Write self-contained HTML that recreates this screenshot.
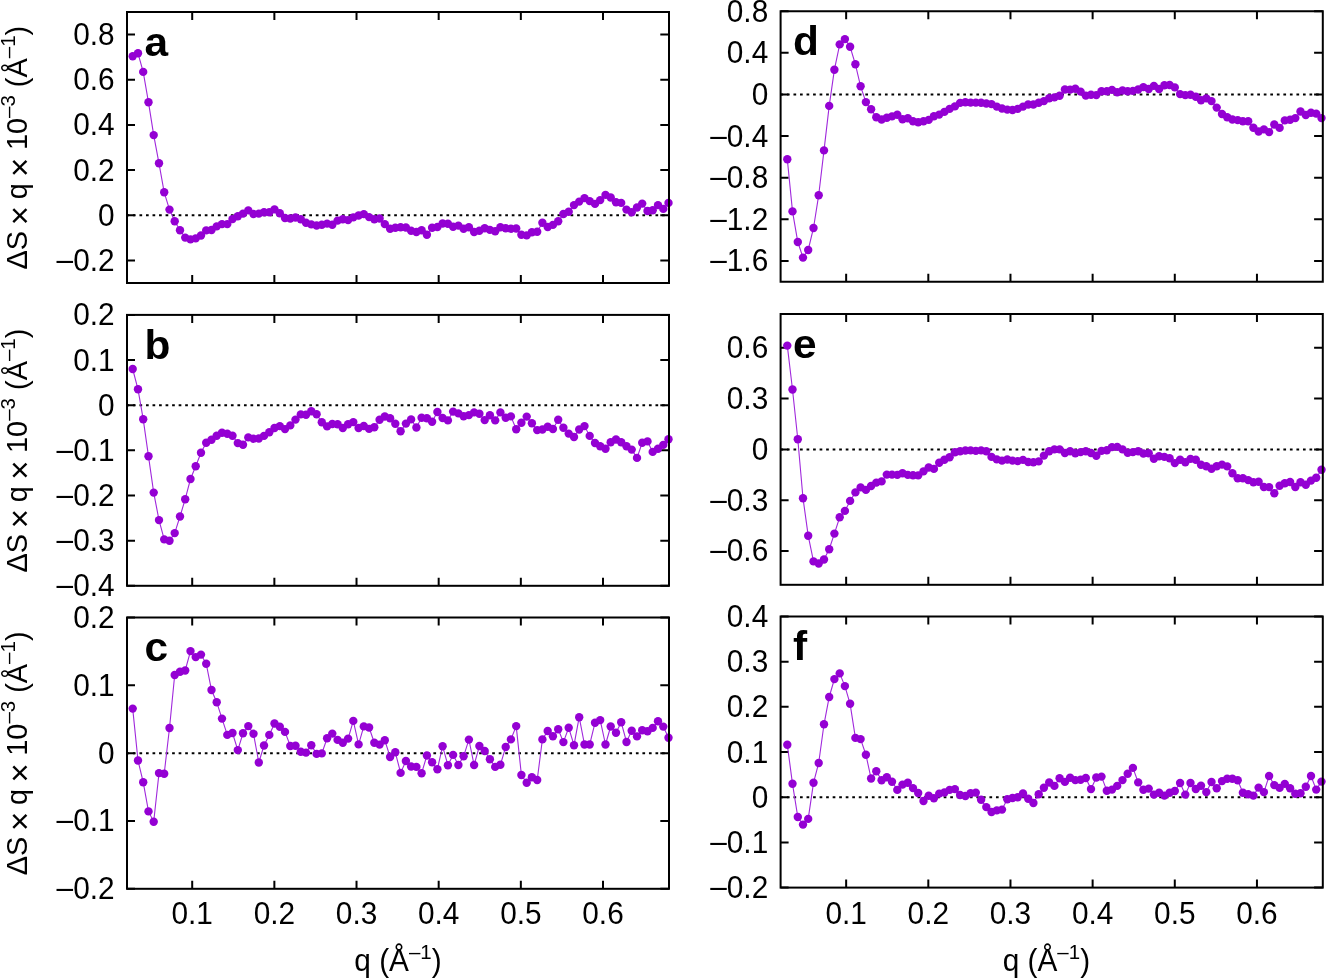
<!DOCTYPE html>
<html><head><meta charset="utf-8"><title>Figure</title>
<style>html,body{margin:0;padding:0;background:#fff;width:1326px;height:978px;overflow:hidden}
svg{display:block;font-family:'Liberation Sans', Arial, Helvetica, sans-serif;font-size:29.8px}</style></head>
<body>
<svg width="1326" height="978" viewBox="0 0 1326 978">
<rect width="1326" height="978" fill="#fff"/>
<g id="pa"><line x1="127.00" y1="215.25" x2="669.00" y2="215.25" stroke="#000" stroke-width="2" stroke-dasharray="2.7,3.832" stroke-dashoffset="0.61"/><path d="M127.00,260.42h8M669.00,260.42h-8.7" stroke="#000" stroke-width="2"/><text transform="translate(114.60,270.92) scale(1,1.06)" text-anchor="end"><tspan dy="-1">–</tspan><tspan dy="1">0.2</tspan></text><path d="M127.00,215.25h8M669.00,215.25h-8.7" stroke="#000" stroke-width="2"/><text transform="translate(114.60,225.75) scale(1,1.06)" text-anchor="end">0</text><path d="M127.00,170.08h8M669.00,170.08h-8.7" stroke="#000" stroke-width="2"/><text transform="translate(114.60,180.58) scale(1,1.06)" text-anchor="end">0.2</text><path d="M127.00,124.92h8M669.00,124.92h-8.7" stroke="#000" stroke-width="2"/><text transform="translate(114.60,135.42) scale(1,1.06)" text-anchor="end">0.4</text><path d="M127.00,79.75h8M669.00,79.75h-8.7" stroke="#000" stroke-width="2"/><text transform="translate(114.60,90.25) scale(1,1.06)" text-anchor="end">0.6</text><path d="M127.00,34.58h8M669.00,34.58h-8.7" stroke="#000" stroke-width="2"/><text transform="translate(114.60,45.08) scale(1,1.06)" text-anchor="end">0.8</text><path d="M192.20,283.00v-8M192.20,12.00v8" stroke="#000" stroke-width="2"/><path d="M274.36,283.00v-8M274.36,12.00v8" stroke="#000" stroke-width="2"/><path d="M356.52,283.00v-8M356.52,12.00v8" stroke="#000" stroke-width="2"/><path d="M438.68,283.00v-8M438.68,12.00v8" stroke="#000" stroke-width="2"/><path d="M520.84,283.00v-8M520.84,12.00v8" stroke="#000" stroke-width="2"/><path d="M603.00,283.00v-8M603.00,12.00v8" stroke="#000" stroke-width="2"/><path d="M132.7,56.3 L138.0,53.3 L143.2,71.9 L148.5,102.3 L153.7,135.1 L159.0,163.3 L164.2,192.3 L169.5,209.6 L174.7,221.2 L180.0,230.2 L185.2,237.6 L190.5,239.4 L195.7,238.4 L201.0,235.5 L206.2,230.4 L211.5,230.0 L216.7,226.4 L222.0,224.1 L227.3,224.1 L232.5,219.1 L237.8,216.2 L243.0,213.6 L248.3,210.4 L253.5,214.0 L258.8,213.6 L264.0,212.2 L269.3,212.2 L274.5,209.4 L279.8,213.2 L285.0,218.0 L290.3,218.5 L295.5,217.5 L300.8,219.3 L306.0,222.8 L311.3,224.4 L316.6,225.5 L321.8,224.7 L327.1,223.6 L332.3,224.7 L337.6,220.6 L342.8,219.3 L348.1,220.1 L353.3,217.4 L358.6,215.5 L363.8,214.1 L369.1,217.1 L374.3,219.3 L379.6,218.5 L384.8,224.1 L390.1,228.8 L395.3,227.7 L400.6,227.3 L405.9,227.5 L411.1,230.7 L416.4,232.0 L421.6,230.3 L426.9,234.7 L432.1,227.7 L437.4,227.0 L442.6,223.5 L447.9,223.8 L453.1,226.7 L458.4,225.6 L463.6,228.8 L468.9,227.3 L474.1,232.0 L479.4,230.7 L484.7,228.2 L489.9,229.9 L495.2,231.2 L500.4,227.2 L505.7,228.3 L510.9,228.8 L516.2,228.5 L521.4,234.7 L526.7,235.4 L531.9,232.3 L537.2,231.7 L542.4,222.8 L547.7,227.0 L552.9,224.9 L558.2,221.2 L563.4,214.0 L568.7,211.7 L574.0,205.1 L579.2,201.6 L584.5,198.1 L589.7,201.1 L595.0,203.9 L600.2,200.1 L605.5,194.9 L610.7,197.5 L616.0,202.2 L621.2,202.9 L626.5,209.6 L631.7,212.2 L637.0,207.5 L642.2,203.6 L647.5,211.0 L652.7,210.3 L658.0,205.1 L663.3,208.9 L668.5,202.9" fill="none" stroke="#a028dc" stroke-width="1.1"/><g fill="#9400d3"><circle cx="132.7" cy="56.3" r="4.2"/><circle cx="138.0" cy="53.3" r="4.2"/><circle cx="143.2" cy="71.9" r="4.2"/><circle cx="148.5" cy="102.3" r="4.2"/><circle cx="153.7" cy="135.1" r="4.2"/><circle cx="159.0" cy="163.3" r="4.2"/><circle cx="164.2" cy="192.3" r="4.2"/><circle cx="169.5" cy="209.6" r="4.2"/><circle cx="174.7" cy="221.2" r="4.2"/><circle cx="180.0" cy="230.2" r="4.2"/><circle cx="185.2" cy="237.6" r="4.2"/><circle cx="190.5" cy="239.4" r="4.2"/><circle cx="195.7" cy="238.4" r="4.2"/><circle cx="201.0" cy="235.5" r="4.2"/><circle cx="206.2" cy="230.4" r="4.2"/><circle cx="211.5" cy="230.0" r="4.2"/><circle cx="216.7" cy="226.4" r="4.2"/><circle cx="222.0" cy="224.1" r="4.2"/><circle cx="227.3" cy="224.1" r="4.2"/><circle cx="232.5" cy="219.1" r="4.2"/><circle cx="237.8" cy="216.2" r="4.2"/><circle cx="243.0" cy="213.6" r="4.2"/><circle cx="248.3" cy="210.4" r="4.2"/><circle cx="253.5" cy="214.0" r="4.2"/><circle cx="258.8" cy="213.6" r="4.2"/><circle cx="264.0" cy="212.2" r="4.2"/><circle cx="269.3" cy="212.2" r="4.2"/><circle cx="274.5" cy="209.4" r="4.2"/><circle cx="279.8" cy="213.2" r="4.2"/><circle cx="285.0" cy="218.0" r="4.2"/><circle cx="290.3" cy="218.5" r="4.2"/><circle cx="295.5" cy="217.5" r="4.2"/><circle cx="300.8" cy="219.3" r="4.2"/><circle cx="306.0" cy="222.8" r="4.2"/><circle cx="311.3" cy="224.4" r="4.2"/><circle cx="316.6" cy="225.5" r="4.2"/><circle cx="321.8" cy="224.7" r="4.2"/><circle cx="327.1" cy="223.6" r="4.2"/><circle cx="332.3" cy="224.7" r="4.2"/><circle cx="337.6" cy="220.6" r="4.2"/><circle cx="342.8" cy="219.3" r="4.2"/><circle cx="348.1" cy="220.1" r="4.2"/><circle cx="353.3" cy="217.4" r="4.2"/><circle cx="358.6" cy="215.5" r="4.2"/><circle cx="363.8" cy="214.1" r="4.2"/><circle cx="369.1" cy="217.1" r="4.2"/><circle cx="374.3" cy="219.3" r="4.2"/><circle cx="379.6" cy="218.5" r="4.2"/><circle cx="384.8" cy="224.1" r="4.2"/><circle cx="390.1" cy="228.8" r="4.2"/><circle cx="395.3" cy="227.7" r="4.2"/><circle cx="400.6" cy="227.3" r="4.2"/><circle cx="405.9" cy="227.5" r="4.2"/><circle cx="411.1" cy="230.7" r="4.2"/><circle cx="416.4" cy="232.0" r="4.2"/><circle cx="421.6" cy="230.3" r="4.2"/><circle cx="426.9" cy="234.7" r="4.2"/><circle cx="432.1" cy="227.7" r="4.2"/><circle cx="437.4" cy="227.0" r="4.2"/><circle cx="442.6" cy="223.5" r="4.2"/><circle cx="447.9" cy="223.8" r="4.2"/><circle cx="453.1" cy="226.7" r="4.2"/><circle cx="458.4" cy="225.6" r="4.2"/><circle cx="463.6" cy="228.8" r="4.2"/><circle cx="468.9" cy="227.3" r="4.2"/><circle cx="474.1" cy="232.0" r="4.2"/><circle cx="479.4" cy="230.7" r="4.2"/><circle cx="484.7" cy="228.2" r="4.2"/><circle cx="489.9" cy="229.9" r="4.2"/><circle cx="495.2" cy="231.2" r="4.2"/><circle cx="500.4" cy="227.2" r="4.2"/><circle cx="505.7" cy="228.3" r="4.2"/><circle cx="510.9" cy="228.8" r="4.2"/><circle cx="516.2" cy="228.5" r="4.2"/><circle cx="521.4" cy="234.7" r="4.2"/><circle cx="526.7" cy="235.4" r="4.2"/><circle cx="531.9" cy="232.3" r="4.2"/><circle cx="537.2" cy="231.7" r="4.2"/><circle cx="542.4" cy="222.8" r="4.2"/><circle cx="547.7" cy="227.0" r="4.2"/><circle cx="552.9" cy="224.9" r="4.2"/><circle cx="558.2" cy="221.2" r="4.2"/><circle cx="563.4" cy="214.0" r="4.2"/><circle cx="568.7" cy="211.7" r="4.2"/><circle cx="574.0" cy="205.1" r="4.2"/><circle cx="579.2" cy="201.6" r="4.2"/><circle cx="584.5" cy="198.1" r="4.2"/><circle cx="589.7" cy="201.1" r="4.2"/><circle cx="595.0" cy="203.9" r="4.2"/><circle cx="600.2" cy="200.1" r="4.2"/><circle cx="605.5" cy="194.9" r="4.2"/><circle cx="610.7" cy="197.5" r="4.2"/><circle cx="616.0" cy="202.2" r="4.2"/><circle cx="621.2" cy="202.9" r="4.2"/><circle cx="626.5" cy="209.6" r="4.2"/><circle cx="631.7" cy="212.2" r="4.2"/><circle cx="637.0" cy="207.5" r="4.2"/><circle cx="642.2" cy="203.6" r="4.2"/><circle cx="647.5" cy="211.0" r="4.2"/><circle cx="652.7" cy="210.3" r="4.2"/><circle cx="658.0" cy="205.1" r="4.2"/><circle cx="663.3" cy="208.9" r="4.2"/><circle cx="668.5" cy="202.9" r="4.2"/></g><rect x="127.00" y="12.00" width="542.00" height="271.00" fill="none" stroke="#000" stroke-width="2"/><text transform="translate(144.60,55.60) scale(1.035,1)" font-weight="bold" font-size="41">a</text><text transform="translate(27,147.70) rotate(-90)" text-anchor="middle" font-size="28.9">ΔS <tspan font-size="33" dy="3.9" dx="-2.3">×</tspan><tspan dy="-3.9" dx="-1.3"> q </tspan><tspan font-size="33" dy="3.9" dx="-1.7">×</tspan><tspan dy="-3.9" dx="-0.5"> 10</tspan><tspan dy="-12.3" font-size="20.5">–3</tspan><tspan dy="12.3"> (Å</tspan><tspan dy="-12.3" font-size="20.5">–1</tspan><tspan dy="12.3">)</tspan></text></g>
<g id="pb"><line x1="127.00" y1="405.20" x2="669.00" y2="405.20" stroke="#000" stroke-width="2" stroke-dasharray="2.7,3.832" stroke-dashoffset="0.61"/><path d="M127.00,585.80h8M669.00,585.80h-8.7" stroke="#000" stroke-width="2"/><text transform="translate(114.60,596.30) scale(1,1.06)" text-anchor="end"><tspan dy="-1">–</tspan><tspan dy="1">0.4</tspan></text><path d="M127.00,540.65h8M669.00,540.65h-8.7" stroke="#000" stroke-width="2"/><text transform="translate(114.60,551.15) scale(1,1.06)" text-anchor="end"><tspan dy="-1">–</tspan><tspan dy="1">0.3</tspan></text><path d="M127.00,495.50h8M669.00,495.50h-8.7" stroke="#000" stroke-width="2"/><text transform="translate(114.60,506.00) scale(1,1.06)" text-anchor="end"><tspan dy="-1">–</tspan><tspan dy="1">0.2</tspan></text><path d="M127.00,450.35h8M669.00,450.35h-8.7" stroke="#000" stroke-width="2"/><text transform="translate(114.60,460.85) scale(1,1.06)" text-anchor="end"><tspan dy="-1">–</tspan><tspan dy="1">0.1</tspan></text><path d="M127.00,405.20h8M669.00,405.20h-8.7" stroke="#000" stroke-width="2"/><text transform="translate(114.60,415.70) scale(1,1.06)" text-anchor="end">0</text><path d="M127.00,360.05h8M669.00,360.05h-8.7" stroke="#000" stroke-width="2"/><text transform="translate(114.60,370.55) scale(1,1.06)" text-anchor="end">0.1</text><path d="M127.00,314.90h8M669.00,314.90h-8.7" stroke="#000" stroke-width="2"/><text transform="translate(114.60,325.40) scale(1,1.06)" text-anchor="end">0.2</text><path d="M192.20,585.80v-8M192.20,314.90v8" stroke="#000" stroke-width="2"/><path d="M274.36,585.80v-8M274.36,314.90v8" stroke="#000" stroke-width="2"/><path d="M356.52,585.80v-8M356.52,314.90v8" stroke="#000" stroke-width="2"/><path d="M438.68,585.80v-8M438.68,314.90v8" stroke="#000" stroke-width="2"/><path d="M520.84,585.80v-8M520.84,314.90v8" stroke="#000" stroke-width="2"/><path d="M603.00,585.80v-8M603.00,314.90v8" stroke="#000" stroke-width="2"/><path d="M132.7,369.0 L138.0,389.3 L143.2,419.2 L148.5,456.3 L153.7,492.6 L159.0,520.1 L164.2,539.4 L169.5,540.8 L174.7,533.1 L180.0,516.5 L185.2,499.2 L190.5,479.0 L195.7,466.3 L201.0,452.7 L206.2,442.7 L211.5,439.7 L216.7,435.8 L222.0,432.8 L227.3,433.8 L232.5,435.8 L237.8,443.1 L243.0,444.7 L248.3,437.4 L253.5,438.7 L258.8,438.5 L264.0,435.9 L269.3,432.2 L274.5,428.0 L279.8,426.1 L285.0,429.1 L290.3,425.4 L295.5,419.6 L300.8,414.4 L306.0,414.8 L311.3,411.3 L316.6,414.3 L321.8,422.2 L327.1,426.4 L332.3,424.0 L337.6,424.3 L342.8,428.0 L348.1,424.3 L353.3,422.1 L358.6,428.0 L363.8,426.0 L369.1,428.9 L374.3,427.2 L379.6,419.8 L384.8,416.5 L390.1,418.3 L395.3,423.7 L400.6,431.2 L405.9,423.6 L411.1,419.4 L416.4,427.5 L421.6,417.7 L426.9,418.3 L432.1,421.7 L437.4,412.0 L442.6,418.0 L447.9,420.4 L453.1,411.6 L458.4,413.4 L463.6,416.2 L468.9,415.1 L474.1,412.4 L479.4,413.8 L484.7,420.1 L489.9,415.3 L495.2,420.4 L500.4,412.4 L505.7,417.7 L510.9,416.4 L516.2,429.3 L521.4,422.7 L526.7,416.6 L531.9,423.2 L537.2,430.1 L542.4,429.5 L547.7,426.7 L552.9,429.0 L558.2,419.8 L563.4,427.8 L568.7,433.6 L574.0,437.0 L579.2,429.5 L584.5,426.1 L589.7,435.9 L595.0,443.0 L600.2,446.2 L605.5,448.7 L610.7,442.2 L616.0,439.5 L621.2,442.2 L626.5,446.2 L631.7,449.6 L637.0,457.9 L642.2,442.7 L647.5,441.4 L652.7,451.9 L658.0,448.8 L663.3,444.9 L668.5,439.3" fill="none" stroke="#a028dc" stroke-width="1.1"/><g fill="#9400d3"><circle cx="132.7" cy="369.0" r="4.2"/><circle cx="138.0" cy="389.3" r="4.2"/><circle cx="143.2" cy="419.2" r="4.2"/><circle cx="148.5" cy="456.3" r="4.2"/><circle cx="153.7" cy="492.6" r="4.2"/><circle cx="159.0" cy="520.1" r="4.2"/><circle cx="164.2" cy="539.4" r="4.2"/><circle cx="169.5" cy="540.8" r="4.2"/><circle cx="174.7" cy="533.1" r="4.2"/><circle cx="180.0" cy="516.5" r="4.2"/><circle cx="185.2" cy="499.2" r="4.2"/><circle cx="190.5" cy="479.0" r="4.2"/><circle cx="195.7" cy="466.3" r="4.2"/><circle cx="201.0" cy="452.7" r="4.2"/><circle cx="206.2" cy="442.7" r="4.2"/><circle cx="211.5" cy="439.7" r="4.2"/><circle cx="216.7" cy="435.8" r="4.2"/><circle cx="222.0" cy="432.8" r="4.2"/><circle cx="227.3" cy="433.8" r="4.2"/><circle cx="232.5" cy="435.8" r="4.2"/><circle cx="237.8" cy="443.1" r="4.2"/><circle cx="243.0" cy="444.7" r="4.2"/><circle cx="248.3" cy="437.4" r="4.2"/><circle cx="253.5" cy="438.7" r="4.2"/><circle cx="258.8" cy="438.5" r="4.2"/><circle cx="264.0" cy="435.9" r="4.2"/><circle cx="269.3" cy="432.2" r="4.2"/><circle cx="274.5" cy="428.0" r="4.2"/><circle cx="279.8" cy="426.1" r="4.2"/><circle cx="285.0" cy="429.1" r="4.2"/><circle cx="290.3" cy="425.4" r="4.2"/><circle cx="295.5" cy="419.6" r="4.2"/><circle cx="300.8" cy="414.4" r="4.2"/><circle cx="306.0" cy="414.8" r="4.2"/><circle cx="311.3" cy="411.3" r="4.2"/><circle cx="316.6" cy="414.3" r="4.2"/><circle cx="321.8" cy="422.2" r="4.2"/><circle cx="327.1" cy="426.4" r="4.2"/><circle cx="332.3" cy="424.0" r="4.2"/><circle cx="337.6" cy="424.3" r="4.2"/><circle cx="342.8" cy="428.0" r="4.2"/><circle cx="348.1" cy="424.3" r="4.2"/><circle cx="353.3" cy="422.1" r="4.2"/><circle cx="358.6" cy="428.0" r="4.2"/><circle cx="363.8" cy="426.0" r="4.2"/><circle cx="369.1" cy="428.9" r="4.2"/><circle cx="374.3" cy="427.2" r="4.2"/><circle cx="379.6" cy="419.8" r="4.2"/><circle cx="384.8" cy="416.5" r="4.2"/><circle cx="390.1" cy="418.3" r="4.2"/><circle cx="395.3" cy="423.7" r="4.2"/><circle cx="400.6" cy="431.2" r="4.2"/><circle cx="405.9" cy="423.6" r="4.2"/><circle cx="411.1" cy="419.4" r="4.2"/><circle cx="416.4" cy="427.5" r="4.2"/><circle cx="421.6" cy="417.7" r="4.2"/><circle cx="426.9" cy="418.3" r="4.2"/><circle cx="432.1" cy="421.7" r="4.2"/><circle cx="437.4" cy="412.0" r="4.2"/><circle cx="442.6" cy="418.0" r="4.2"/><circle cx="447.9" cy="420.4" r="4.2"/><circle cx="453.1" cy="411.6" r="4.2"/><circle cx="458.4" cy="413.4" r="4.2"/><circle cx="463.6" cy="416.2" r="4.2"/><circle cx="468.9" cy="415.1" r="4.2"/><circle cx="474.1" cy="412.4" r="4.2"/><circle cx="479.4" cy="413.8" r="4.2"/><circle cx="484.7" cy="420.1" r="4.2"/><circle cx="489.9" cy="415.3" r="4.2"/><circle cx="495.2" cy="420.4" r="4.2"/><circle cx="500.4" cy="412.4" r="4.2"/><circle cx="505.7" cy="417.7" r="4.2"/><circle cx="510.9" cy="416.4" r="4.2"/><circle cx="516.2" cy="429.3" r="4.2"/><circle cx="521.4" cy="422.7" r="4.2"/><circle cx="526.7" cy="416.6" r="4.2"/><circle cx="531.9" cy="423.2" r="4.2"/><circle cx="537.2" cy="430.1" r="4.2"/><circle cx="542.4" cy="429.5" r="4.2"/><circle cx="547.7" cy="426.7" r="4.2"/><circle cx="552.9" cy="429.0" r="4.2"/><circle cx="558.2" cy="419.8" r="4.2"/><circle cx="563.4" cy="427.8" r="4.2"/><circle cx="568.7" cy="433.6" r="4.2"/><circle cx="574.0" cy="437.0" r="4.2"/><circle cx="579.2" cy="429.5" r="4.2"/><circle cx="584.5" cy="426.1" r="4.2"/><circle cx="589.7" cy="435.9" r="4.2"/><circle cx="595.0" cy="443.0" r="4.2"/><circle cx="600.2" cy="446.2" r="4.2"/><circle cx="605.5" cy="448.7" r="4.2"/><circle cx="610.7" cy="442.2" r="4.2"/><circle cx="616.0" cy="439.5" r="4.2"/><circle cx="621.2" cy="442.2" r="4.2"/><circle cx="626.5" cy="446.2" r="4.2"/><circle cx="631.7" cy="449.6" r="4.2"/><circle cx="637.0" cy="457.9" r="4.2"/><circle cx="642.2" cy="442.7" r="4.2"/><circle cx="647.5" cy="441.4" r="4.2"/><circle cx="652.7" cy="451.9" r="4.2"/><circle cx="658.0" cy="448.8" r="4.2"/><circle cx="663.3" cy="444.9" r="4.2"/><circle cx="668.5" cy="439.3" r="4.2"/></g><rect x="127.00" y="314.90" width="542.00" height="270.90" fill="none" stroke="#000" stroke-width="2"/><text transform="translate(144.60,358.50) scale(1.035,1)" font-weight="bold" font-size="41">b</text><text transform="translate(27,450.55) rotate(-90)" text-anchor="middle" font-size="28.9">ΔS <tspan font-size="33" dy="3.9" dx="-2.3">×</tspan><tspan dy="-3.9" dx="-1.3"> q </tspan><tspan font-size="33" dy="3.9" dx="-1.7">×</tspan><tspan dy="-3.9" dx="-0.5"> 10</tspan><tspan dy="-12.3" font-size="20.5">–3</tspan><tspan dy="12.3"> (Å</tspan><tspan dy="-12.3" font-size="20.5">–1</tspan><tspan dy="12.3">)</tspan></text></g>
<g id="pc"><line x1="127.00" y1="753.15" x2="669.00" y2="753.15" stroke="#000" stroke-width="2" stroke-dasharray="2.7,3.832" stroke-dashoffset="0.61"/><path d="M127.00,888.80h8M669.00,888.80h-8.7" stroke="#000" stroke-width="2"/><text transform="translate(114.60,899.30) scale(1,1.06)" text-anchor="end"><tspan dy="-1">–</tspan><tspan dy="1">0.2</tspan></text><path d="M127.00,820.98h8M669.00,820.98h-8.7" stroke="#000" stroke-width="2"/><text transform="translate(114.60,831.48) scale(1,1.06)" text-anchor="end"><tspan dy="-1">–</tspan><tspan dy="1">0.1</tspan></text><path d="M127.00,753.15h8M669.00,753.15h-8.7" stroke="#000" stroke-width="2"/><text transform="translate(114.60,763.65) scale(1,1.06)" text-anchor="end">0</text><path d="M127.00,685.33h8M669.00,685.33h-8.7" stroke="#000" stroke-width="2"/><text transform="translate(114.60,695.83) scale(1,1.06)" text-anchor="end">0.1</text><path d="M127.00,617.50h8M669.00,617.50h-8.7" stroke="#000" stroke-width="2"/><text transform="translate(114.60,628.00) scale(1,1.06)" text-anchor="end">0.2</text><path d="M192.20,888.80v-8M192.20,617.50v8" stroke="#000" stroke-width="2"/><text transform="translate(192.20,924.1) scale(1,1.06)" text-anchor="middle">0.1</text><path d="M274.36,888.80v-8M274.36,617.50v8" stroke="#000" stroke-width="2"/><text transform="translate(274.36,924.1) scale(1,1.06)" text-anchor="middle">0.2</text><path d="M356.52,888.80v-8M356.52,617.50v8" stroke="#000" stroke-width="2"/><text transform="translate(356.52,924.1) scale(1,1.06)" text-anchor="middle">0.3</text><path d="M438.68,888.80v-8M438.68,617.50v8" stroke="#000" stroke-width="2"/><text transform="translate(438.68,924.1) scale(1,1.06)" text-anchor="middle">0.4</text><path d="M520.84,888.80v-8M520.84,617.50v8" stroke="#000" stroke-width="2"/><text transform="translate(520.84,924.1) scale(1,1.06)" text-anchor="middle">0.5</text><path d="M603.00,888.80v-8M603.00,617.50v8" stroke="#000" stroke-width="2"/><text transform="translate(603.00,924.1) scale(1,1.06)" text-anchor="middle">0.6</text><path d="M132.7,708.6 L138.0,760.5 L143.2,782.2 L148.5,811.4 L153.7,821.7 L159.0,773.1 L164.2,773.7 L169.5,728.0 L174.7,675.0 L180.0,671.7 L185.2,670.5 L190.5,651.1 L195.7,657.1 L201.0,654.6 L206.2,663.7 L211.5,690.0 L216.7,702.2 L222.0,718.6 L227.3,734.9 L232.5,733.0 L237.8,750.1 L243.0,733.3 L248.3,726.1 L253.5,733.8 L258.8,762.5 L264.0,745.5 L269.3,734.9 L274.5,723.5 L279.8,726.7 L285.0,731.9 L290.3,746.0 L295.5,745.7 L300.8,751.8 L306.0,752.6 L311.3,745.3 L316.6,753.9 L321.8,753.4 L327.1,738.3 L332.3,733.6 L337.6,739.9 L342.8,742.8 L348.1,738.6 L353.3,720.9 L358.6,744.4 L363.8,726.4 L369.1,727.5 L374.3,742.8 L379.6,744.6 L384.8,740.2 L390.1,757.0 L395.3,752.3 L400.6,772.9 L405.9,761.0 L411.1,766.5 L416.4,766.9 L421.6,773.2 L426.9,755.5 L432.1,762.3 L437.4,769.2 L442.6,746.2 L447.9,765.2 L453.1,754.9 L458.4,765.0 L463.6,756.3 L468.9,739.6 L474.1,765.0 L479.4,746.0 L484.7,751.0 L489.9,759.2 L495.2,766.9 L500.4,764.8 L505.7,747.0 L510.9,739.4 L516.2,726.1 L521.4,775.0 L526.7,782.7 L531.9,777.2 L537.2,780.0 L542.4,739.4 L547.7,731.0 L552.9,736.3 L558.2,729.2 L563.4,742.1 L568.7,727.8 L574.0,745.2 L579.2,717.2 L584.5,744.5 L589.7,744.5 L595.0,722.8 L600.2,720.1 L605.5,744.5 L610.7,726.5 L616.0,732.8 L621.2,722.3 L626.5,742.0 L631.7,730.7 L637.0,736.4 L642.2,730.3 L647.5,731.3 L652.7,727.9 L658.0,721.3 L663.3,726.6 L668.5,737.7" fill="none" stroke="#a028dc" stroke-width="1.1"/><g fill="#9400d3"><circle cx="132.7" cy="708.6" r="4.2"/><circle cx="138.0" cy="760.5" r="4.2"/><circle cx="143.2" cy="782.2" r="4.2"/><circle cx="148.5" cy="811.4" r="4.2"/><circle cx="153.7" cy="821.7" r="4.2"/><circle cx="159.0" cy="773.1" r="4.2"/><circle cx="164.2" cy="773.7" r="4.2"/><circle cx="169.5" cy="728.0" r="4.2"/><circle cx="174.7" cy="675.0" r="4.2"/><circle cx="180.0" cy="671.7" r="4.2"/><circle cx="185.2" cy="670.5" r="4.2"/><circle cx="190.5" cy="651.1" r="4.2"/><circle cx="195.7" cy="657.1" r="4.2"/><circle cx="201.0" cy="654.6" r="4.2"/><circle cx="206.2" cy="663.7" r="4.2"/><circle cx="211.5" cy="690.0" r="4.2"/><circle cx="216.7" cy="702.2" r="4.2"/><circle cx="222.0" cy="718.6" r="4.2"/><circle cx="227.3" cy="734.9" r="4.2"/><circle cx="232.5" cy="733.0" r="4.2"/><circle cx="237.8" cy="750.1" r="4.2"/><circle cx="243.0" cy="733.3" r="4.2"/><circle cx="248.3" cy="726.1" r="4.2"/><circle cx="253.5" cy="733.8" r="4.2"/><circle cx="258.8" cy="762.5" r="4.2"/><circle cx="264.0" cy="745.5" r="4.2"/><circle cx="269.3" cy="734.9" r="4.2"/><circle cx="274.5" cy="723.5" r="4.2"/><circle cx="279.8" cy="726.7" r="4.2"/><circle cx="285.0" cy="731.9" r="4.2"/><circle cx="290.3" cy="746.0" r="4.2"/><circle cx="295.5" cy="745.7" r="4.2"/><circle cx="300.8" cy="751.8" r="4.2"/><circle cx="306.0" cy="752.6" r="4.2"/><circle cx="311.3" cy="745.3" r="4.2"/><circle cx="316.6" cy="753.9" r="4.2"/><circle cx="321.8" cy="753.4" r="4.2"/><circle cx="327.1" cy="738.3" r="4.2"/><circle cx="332.3" cy="733.6" r="4.2"/><circle cx="337.6" cy="739.9" r="4.2"/><circle cx="342.8" cy="742.8" r="4.2"/><circle cx="348.1" cy="738.6" r="4.2"/><circle cx="353.3" cy="720.9" r="4.2"/><circle cx="358.6" cy="744.4" r="4.2"/><circle cx="363.8" cy="726.4" r="4.2"/><circle cx="369.1" cy="727.5" r="4.2"/><circle cx="374.3" cy="742.8" r="4.2"/><circle cx="379.6" cy="744.6" r="4.2"/><circle cx="384.8" cy="740.2" r="4.2"/><circle cx="390.1" cy="757.0" r="4.2"/><circle cx="395.3" cy="752.3" r="4.2"/><circle cx="400.6" cy="772.9" r="4.2"/><circle cx="405.9" cy="761.0" r="4.2"/><circle cx="411.1" cy="766.5" r="4.2"/><circle cx="416.4" cy="766.9" r="4.2"/><circle cx="421.6" cy="773.2" r="4.2"/><circle cx="426.9" cy="755.5" r="4.2"/><circle cx="432.1" cy="762.3" r="4.2"/><circle cx="437.4" cy="769.2" r="4.2"/><circle cx="442.6" cy="746.2" r="4.2"/><circle cx="447.9" cy="765.2" r="4.2"/><circle cx="453.1" cy="754.9" r="4.2"/><circle cx="458.4" cy="765.0" r="4.2"/><circle cx="463.6" cy="756.3" r="4.2"/><circle cx="468.9" cy="739.6" r="4.2"/><circle cx="474.1" cy="765.0" r="4.2"/><circle cx="479.4" cy="746.0" r="4.2"/><circle cx="484.7" cy="751.0" r="4.2"/><circle cx="489.9" cy="759.2" r="4.2"/><circle cx="495.2" cy="766.9" r="4.2"/><circle cx="500.4" cy="764.8" r="4.2"/><circle cx="505.7" cy="747.0" r="4.2"/><circle cx="510.9" cy="739.4" r="4.2"/><circle cx="516.2" cy="726.1" r="4.2"/><circle cx="521.4" cy="775.0" r="4.2"/><circle cx="526.7" cy="782.7" r="4.2"/><circle cx="531.9" cy="777.2" r="4.2"/><circle cx="537.2" cy="780.0" r="4.2"/><circle cx="542.4" cy="739.4" r="4.2"/><circle cx="547.7" cy="731.0" r="4.2"/><circle cx="552.9" cy="736.3" r="4.2"/><circle cx="558.2" cy="729.2" r="4.2"/><circle cx="563.4" cy="742.1" r="4.2"/><circle cx="568.7" cy="727.8" r="4.2"/><circle cx="574.0" cy="745.2" r="4.2"/><circle cx="579.2" cy="717.2" r="4.2"/><circle cx="584.5" cy="744.5" r="4.2"/><circle cx="589.7" cy="744.5" r="4.2"/><circle cx="595.0" cy="722.8" r="4.2"/><circle cx="600.2" cy="720.1" r="4.2"/><circle cx="605.5" cy="744.5" r="4.2"/><circle cx="610.7" cy="726.5" r="4.2"/><circle cx="616.0" cy="732.8" r="4.2"/><circle cx="621.2" cy="722.3" r="4.2"/><circle cx="626.5" cy="742.0" r="4.2"/><circle cx="631.7" cy="730.7" r="4.2"/><circle cx="637.0" cy="736.4" r="4.2"/><circle cx="642.2" cy="730.3" r="4.2"/><circle cx="647.5" cy="731.3" r="4.2"/><circle cx="652.7" cy="727.9" r="4.2"/><circle cx="658.0" cy="721.3" r="4.2"/><circle cx="663.3" cy="726.6" r="4.2"/><circle cx="668.5" cy="737.7" r="4.2"/></g><rect x="127.00" y="617.50" width="542.00" height="271.30" fill="none" stroke="#000" stroke-width="2"/><text transform="translate(144.60,661.10) scale(1.035,1)" font-weight="bold" font-size="41">c</text><text transform="translate(27,753.35) rotate(-90)" text-anchor="middle" font-size="28.9">ΔS <tspan font-size="33" dy="3.9" dx="-2.3">×</tspan><tspan dy="-3.9" dx="-1.3"> q </tspan><tspan font-size="33" dy="3.9" dx="-1.7">×</tspan><tspan dy="-3.9" dx="-0.5"> 10</tspan><tspan dy="-12.3" font-size="20.5">–3</tspan><tspan dy="12.3"> (Å</tspan><tspan dy="-12.3" font-size="20.5">–1</tspan><tspan dy="12.3">)</tspan></text></g>
<g id="pd"><line x1="780.60" y1="94.48" x2="1322.80" y2="94.48" stroke="#000" stroke-width="2" stroke-dasharray="2.7,3.832" stroke-dashoffset="0.19"/><path d="M780.60,260.94h8M1322.80,260.94h-8.7" stroke="#000" stroke-width="2"/><text transform="translate(768.20,271.44) scale(1,1.06)" text-anchor="end"><tspan dy="-1">–</tspan><tspan dy="1">1.6</tspan></text><path d="M780.60,219.33h8M1322.80,219.33h-8.7" stroke="#000" stroke-width="2"/><text transform="translate(768.20,229.83) scale(1,1.06)" text-anchor="end"><tspan dy="-1">–</tspan><tspan dy="1">1.2</tspan></text><path d="M780.60,177.71h8M1322.80,177.71h-8.7" stroke="#000" stroke-width="2"/><text transform="translate(768.20,188.21) scale(1,1.06)" text-anchor="end"><tspan dy="-1">–</tspan><tspan dy="1">0.8</tspan></text><path d="M780.60,136.10h8M1322.80,136.10h-8.7" stroke="#000" stroke-width="2"/><text transform="translate(768.20,146.60) scale(1,1.06)" text-anchor="end"><tspan dy="-1">–</tspan><tspan dy="1">0.4</tspan></text><path d="M780.60,94.48h8M1322.80,94.48h-8.7" stroke="#000" stroke-width="2"/><text transform="translate(768.20,104.98) scale(1,1.06)" text-anchor="end">0</text><path d="M780.60,52.87h8M1322.80,52.87h-8.7" stroke="#000" stroke-width="2"/><text transform="translate(768.20,63.37) scale(1,1.06)" text-anchor="end">0.4</text><path d="M780.60,11.25h8M1322.80,11.25h-8.7" stroke="#000" stroke-width="2"/><text transform="translate(768.20,21.75) scale(1,1.06)" text-anchor="end">0.8</text><path d="M846.15,281.75v-8M846.15,11.25v8" stroke="#000" stroke-width="2"/><path d="M928.31,281.75v-8M928.31,11.25v8" stroke="#000" stroke-width="2"/><path d="M1010.47,281.75v-8M1010.47,11.25v8" stroke="#000" stroke-width="2"/><path d="M1092.63,281.75v-8M1092.63,11.25v8" stroke="#000" stroke-width="2"/><path d="M1174.79,281.75v-8M1174.79,11.25v8" stroke="#000" stroke-width="2"/><path d="M1256.95,281.75v-8M1256.95,11.25v8" stroke="#000" stroke-width="2"/><path d="M787.3,159.3 L792.5,211.4 L797.8,242.0 L803.0,257.6 L808.2,250.0 L813.5,228.0 L818.7,195.2 L824.0,150.4 L829.2,105.9 L834.4,69.7 L839.7,44.4 L844.9,39.1 L850.1,46.8 L855.4,64.3 L860.6,86.3 L865.9,102.1 L871.1,109.2 L876.3,117.3 L881.6,119.5 L886.8,117.7 L892.0,116.4 L897.3,114.7 L902.5,119.3 L907.8,118.2 L913.0,121.2 L918.2,122.2 L923.5,121.2 L928.7,119.9 L933.9,116.2 L939.2,114.6 L944.4,111.9 L949.6,108.9 L954.9,106.4 L960.1,102.9 L965.4,102.2 L970.6,102.6 L975.8,102.6 L981.1,102.7 L986.3,103.5 L991.5,104.1 L996.8,106.6 L1002.0,108.5 L1007.3,109.6 L1012.5,110.0 L1017.7,108.9 L1023.0,106.6 L1028.2,104.5 L1033.4,104.5 L1038.7,102.7 L1043.9,101.1 L1049.2,98.2 L1054.4,97.4 L1059.6,95.8 L1064.9,89.5 L1070.1,89.6 L1075.3,88.7 L1080.6,91.6 L1085.8,95.6 L1091.0,94.8 L1096.3,95.1 L1101.5,91.3 L1106.8,91.2 L1112.0,89.9 L1117.2,92.3 L1122.5,90.5 L1127.7,91.3 L1132.9,90.9 L1138.2,89.5 L1143.4,87.1 L1148.7,89.0 L1153.9,85.9 L1159.1,89.0 L1164.4,85.3 L1169.6,85.0 L1174.8,87.4 L1180.1,94.1 L1185.3,95.1 L1190.5,94.7 L1195.8,96.8 L1201.0,100.2 L1206.3,98.4 L1211.5,101.1 L1216.7,107.6 L1222.0,114.0 L1227.2,117.3 L1232.4,119.5 L1237.7,120.1 L1242.9,121.3 L1248.2,121.3 L1253.4,127.7 L1258.6,131.5 L1263.9,129.4 L1269.1,132.1 L1274.3,124.5 L1279.6,127.9 L1284.8,120.4 L1290.1,119.8 L1295.3,118.1 L1300.5,111.5 L1305.8,115.0 L1311.0,112.8 L1316.2,113.6 L1321.5,118.1" fill="none" stroke="#a028dc" stroke-width="1.1"/><g fill="#9400d3"><circle cx="787.3" cy="159.3" r="4.2"/><circle cx="792.5" cy="211.4" r="4.2"/><circle cx="797.8" cy="242.0" r="4.2"/><circle cx="803.0" cy="257.6" r="4.2"/><circle cx="808.2" cy="250.0" r="4.2"/><circle cx="813.5" cy="228.0" r="4.2"/><circle cx="818.7" cy="195.2" r="4.2"/><circle cx="824.0" cy="150.4" r="4.2"/><circle cx="829.2" cy="105.9" r="4.2"/><circle cx="834.4" cy="69.7" r="4.2"/><circle cx="839.7" cy="44.4" r="4.2"/><circle cx="844.9" cy="39.1" r="4.2"/><circle cx="850.1" cy="46.8" r="4.2"/><circle cx="855.4" cy="64.3" r="4.2"/><circle cx="860.6" cy="86.3" r="4.2"/><circle cx="865.9" cy="102.1" r="4.2"/><circle cx="871.1" cy="109.2" r="4.2"/><circle cx="876.3" cy="117.3" r="4.2"/><circle cx="881.6" cy="119.5" r="4.2"/><circle cx="886.8" cy="117.7" r="4.2"/><circle cx="892.0" cy="116.4" r="4.2"/><circle cx="897.3" cy="114.7" r="4.2"/><circle cx="902.5" cy="119.3" r="4.2"/><circle cx="907.8" cy="118.2" r="4.2"/><circle cx="913.0" cy="121.2" r="4.2"/><circle cx="918.2" cy="122.2" r="4.2"/><circle cx="923.5" cy="121.2" r="4.2"/><circle cx="928.7" cy="119.9" r="4.2"/><circle cx="933.9" cy="116.2" r="4.2"/><circle cx="939.2" cy="114.6" r="4.2"/><circle cx="944.4" cy="111.9" r="4.2"/><circle cx="949.6" cy="108.9" r="4.2"/><circle cx="954.9" cy="106.4" r="4.2"/><circle cx="960.1" cy="102.9" r="4.2"/><circle cx="965.4" cy="102.2" r="4.2"/><circle cx="970.6" cy="102.6" r="4.2"/><circle cx="975.8" cy="102.6" r="4.2"/><circle cx="981.1" cy="102.7" r="4.2"/><circle cx="986.3" cy="103.5" r="4.2"/><circle cx="991.5" cy="104.1" r="4.2"/><circle cx="996.8" cy="106.6" r="4.2"/><circle cx="1002.0" cy="108.5" r="4.2"/><circle cx="1007.3" cy="109.6" r="4.2"/><circle cx="1012.5" cy="110.0" r="4.2"/><circle cx="1017.7" cy="108.9" r="4.2"/><circle cx="1023.0" cy="106.6" r="4.2"/><circle cx="1028.2" cy="104.5" r="4.2"/><circle cx="1033.4" cy="104.5" r="4.2"/><circle cx="1038.7" cy="102.7" r="4.2"/><circle cx="1043.9" cy="101.1" r="4.2"/><circle cx="1049.2" cy="98.2" r="4.2"/><circle cx="1054.4" cy="97.4" r="4.2"/><circle cx="1059.6" cy="95.8" r="4.2"/><circle cx="1064.9" cy="89.5" r="4.2"/><circle cx="1070.1" cy="89.6" r="4.2"/><circle cx="1075.3" cy="88.7" r="4.2"/><circle cx="1080.6" cy="91.6" r="4.2"/><circle cx="1085.8" cy="95.6" r="4.2"/><circle cx="1091.0" cy="94.8" r="4.2"/><circle cx="1096.3" cy="95.1" r="4.2"/><circle cx="1101.5" cy="91.3" r="4.2"/><circle cx="1106.8" cy="91.2" r="4.2"/><circle cx="1112.0" cy="89.9" r="4.2"/><circle cx="1117.2" cy="92.3" r="4.2"/><circle cx="1122.5" cy="90.5" r="4.2"/><circle cx="1127.7" cy="91.3" r="4.2"/><circle cx="1132.9" cy="90.9" r="4.2"/><circle cx="1138.2" cy="89.5" r="4.2"/><circle cx="1143.4" cy="87.1" r="4.2"/><circle cx="1148.7" cy="89.0" r="4.2"/><circle cx="1153.9" cy="85.9" r="4.2"/><circle cx="1159.1" cy="89.0" r="4.2"/><circle cx="1164.4" cy="85.3" r="4.2"/><circle cx="1169.6" cy="85.0" r="4.2"/><circle cx="1174.8" cy="87.4" r="4.2"/><circle cx="1180.1" cy="94.1" r="4.2"/><circle cx="1185.3" cy="95.1" r="4.2"/><circle cx="1190.5" cy="94.7" r="4.2"/><circle cx="1195.8" cy="96.8" r="4.2"/><circle cx="1201.0" cy="100.2" r="4.2"/><circle cx="1206.3" cy="98.4" r="4.2"/><circle cx="1211.5" cy="101.1" r="4.2"/><circle cx="1216.7" cy="107.6" r="4.2"/><circle cx="1222.0" cy="114.0" r="4.2"/><circle cx="1227.2" cy="117.3" r="4.2"/><circle cx="1232.4" cy="119.5" r="4.2"/><circle cx="1237.7" cy="120.1" r="4.2"/><circle cx="1242.9" cy="121.3" r="4.2"/><circle cx="1248.2" cy="121.3" r="4.2"/><circle cx="1253.4" cy="127.7" r="4.2"/><circle cx="1258.6" cy="131.5" r="4.2"/><circle cx="1263.9" cy="129.4" r="4.2"/><circle cx="1269.1" cy="132.1" r="4.2"/><circle cx="1274.3" cy="124.5" r="4.2"/><circle cx="1279.6" cy="127.9" r="4.2"/><circle cx="1284.8" cy="120.4" r="4.2"/><circle cx="1290.1" cy="119.8" r="4.2"/><circle cx="1295.3" cy="118.1" r="4.2"/><circle cx="1300.5" cy="111.5" r="4.2"/><circle cx="1305.8" cy="115.0" r="4.2"/><circle cx="1311.0" cy="112.8" r="4.2"/><circle cx="1316.2" cy="113.6" r="4.2"/><circle cx="1321.5" cy="118.1" r="4.2"/></g><rect x="780.60" y="11.25" width="542.20" height="270.50" fill="none" stroke="#000" stroke-width="2"/><text transform="translate(792.90,54.85) scale(1.035,1)" font-weight="bold" font-size="41">d</text></g>
<g id="pe"><line x1="780.60" y1="449.40" x2="1322.80" y2="449.40" stroke="#000" stroke-width="2" stroke-dasharray="2.7,3.832" stroke-dashoffset="0.19"/><path d="M780.60,550.95h8M1322.80,550.95h-8.7" stroke="#000" stroke-width="2"/><text transform="translate(768.20,561.45) scale(1,1.06)" text-anchor="end"><tspan dy="-1">–</tspan><tspan dy="1">0.6</tspan></text><path d="M780.60,500.17h8M1322.80,500.17h-8.7" stroke="#000" stroke-width="2"/><text transform="translate(768.20,510.67) scale(1,1.06)" text-anchor="end"><tspan dy="-1">–</tspan><tspan dy="1">0.3</tspan></text><path d="M780.60,449.40h8M1322.80,449.40h-8.7" stroke="#000" stroke-width="2"/><text transform="translate(768.20,459.90) scale(1,1.06)" text-anchor="end">0</text><path d="M780.60,398.62h8M1322.80,398.62h-8.7" stroke="#000" stroke-width="2"/><text transform="translate(768.20,409.12) scale(1,1.06)" text-anchor="end">0.3</text><path d="M780.60,347.85h8M1322.80,347.85h-8.7" stroke="#000" stroke-width="2"/><text transform="translate(768.20,358.35) scale(1,1.06)" text-anchor="end">0.6</text><path d="M846.15,584.80v-8M846.15,314.00v8" stroke="#000" stroke-width="2"/><path d="M928.31,584.80v-8M928.31,314.00v8" stroke="#000" stroke-width="2"/><path d="M1010.47,584.80v-8M1010.47,314.00v8" stroke="#000" stroke-width="2"/><path d="M1092.63,584.80v-8M1092.63,314.00v8" stroke="#000" stroke-width="2"/><path d="M1174.79,584.80v-8M1174.79,314.00v8" stroke="#000" stroke-width="2"/><path d="M1256.95,584.80v-8M1256.95,314.00v8" stroke="#000" stroke-width="2"/><path d="M787.3,345.6 L792.5,389.5 L797.8,439.2 L803.0,498.2 L808.2,535.7 L813.5,561.4 L818.7,563.5 L824.0,559.5 L829.2,549.2 L834.4,533.6 L839.7,517.3 L844.9,510.9 L850.1,500.9 L855.4,492.4 L860.6,487.4 L865.9,489.9 L871.1,486.0 L876.3,482.6 L881.6,481.4 L886.8,474.6 L892.0,474.6 L897.3,474.9 L902.5,473.3 L907.8,474.9 L913.0,475.2 L918.2,475.4 L923.5,471.4 L928.7,467.5 L933.9,468.9 L939.2,462.7 L944.4,459.8 L949.6,457.2 L954.9,452.3 L960.1,451.2 L965.4,450.5 L970.6,450.4 L975.8,450.9 L981.1,450.4 L986.3,451.3 L991.5,456.9 L996.8,459.4 L1002.0,460.6 L1007.3,459.5 L1012.5,460.6 L1017.7,461.1 L1023.0,459.9 L1028.2,462.0 L1033.4,462.2 L1038.7,461.4 L1043.9,455.6 L1049.2,451.2 L1054.4,449.4 L1059.6,449.4 L1064.9,453.0 L1070.1,451.3 L1075.3,453.3 L1080.6,452.1 L1085.8,451.3 L1091.0,453.0 L1096.3,455.8 L1101.5,450.9 L1106.8,450.2 L1112.0,447.1 L1117.2,446.9 L1122.5,449.4 L1127.7,452.7 L1132.9,452.1 L1138.2,451.3 L1143.4,453.5 L1148.7,453.3 L1153.9,458.8 L1159.1,456.3 L1164.4,456.9 L1169.6,458.2 L1174.8,463.1 L1180.1,459.8 L1185.3,462.3 L1190.5,458.9 L1195.8,459.7 L1201.0,464.8 L1206.3,466.3 L1211.5,468.8 L1216.7,466.3 L1222.0,464.6 L1227.2,466.4 L1232.4,473.3 L1237.7,478.2 L1242.9,478.2 L1248.2,480.1 L1253.4,482.3 L1258.6,481.7 L1263.9,487.0 L1269.1,487.1 L1274.3,493.2 L1279.6,485.7 L1284.8,483.3 L1290.1,482.0 L1295.3,487.0 L1300.5,482.3 L1305.8,484.8 L1311.0,480.6 L1316.2,477.8 L1321.5,469.8" fill="none" stroke="#a028dc" stroke-width="1.1"/><g fill="#9400d3"><circle cx="787.3" cy="345.6" r="4.2"/><circle cx="792.5" cy="389.5" r="4.2"/><circle cx="797.8" cy="439.2" r="4.2"/><circle cx="803.0" cy="498.2" r="4.2"/><circle cx="808.2" cy="535.7" r="4.2"/><circle cx="813.5" cy="561.4" r="4.2"/><circle cx="818.7" cy="563.5" r="4.2"/><circle cx="824.0" cy="559.5" r="4.2"/><circle cx="829.2" cy="549.2" r="4.2"/><circle cx="834.4" cy="533.6" r="4.2"/><circle cx="839.7" cy="517.3" r="4.2"/><circle cx="844.9" cy="510.9" r="4.2"/><circle cx="850.1" cy="500.9" r="4.2"/><circle cx="855.4" cy="492.4" r="4.2"/><circle cx="860.6" cy="487.4" r="4.2"/><circle cx="865.9" cy="489.9" r="4.2"/><circle cx="871.1" cy="486.0" r="4.2"/><circle cx="876.3" cy="482.6" r="4.2"/><circle cx="881.6" cy="481.4" r="4.2"/><circle cx="886.8" cy="474.6" r="4.2"/><circle cx="892.0" cy="474.6" r="4.2"/><circle cx="897.3" cy="474.9" r="4.2"/><circle cx="902.5" cy="473.3" r="4.2"/><circle cx="907.8" cy="474.9" r="4.2"/><circle cx="913.0" cy="475.2" r="4.2"/><circle cx="918.2" cy="475.4" r="4.2"/><circle cx="923.5" cy="471.4" r="4.2"/><circle cx="928.7" cy="467.5" r="4.2"/><circle cx="933.9" cy="468.9" r="4.2"/><circle cx="939.2" cy="462.7" r="4.2"/><circle cx="944.4" cy="459.8" r="4.2"/><circle cx="949.6" cy="457.2" r="4.2"/><circle cx="954.9" cy="452.3" r="4.2"/><circle cx="960.1" cy="451.2" r="4.2"/><circle cx="965.4" cy="450.5" r="4.2"/><circle cx="970.6" cy="450.4" r="4.2"/><circle cx="975.8" cy="450.9" r="4.2"/><circle cx="981.1" cy="450.4" r="4.2"/><circle cx="986.3" cy="451.3" r="4.2"/><circle cx="991.5" cy="456.9" r="4.2"/><circle cx="996.8" cy="459.4" r="4.2"/><circle cx="1002.0" cy="460.6" r="4.2"/><circle cx="1007.3" cy="459.5" r="4.2"/><circle cx="1012.5" cy="460.6" r="4.2"/><circle cx="1017.7" cy="461.1" r="4.2"/><circle cx="1023.0" cy="459.9" r="4.2"/><circle cx="1028.2" cy="462.0" r="4.2"/><circle cx="1033.4" cy="462.2" r="4.2"/><circle cx="1038.7" cy="461.4" r="4.2"/><circle cx="1043.9" cy="455.6" r="4.2"/><circle cx="1049.2" cy="451.2" r="4.2"/><circle cx="1054.4" cy="449.4" r="4.2"/><circle cx="1059.6" cy="449.4" r="4.2"/><circle cx="1064.9" cy="453.0" r="4.2"/><circle cx="1070.1" cy="451.3" r="4.2"/><circle cx="1075.3" cy="453.3" r="4.2"/><circle cx="1080.6" cy="452.1" r="4.2"/><circle cx="1085.8" cy="451.3" r="4.2"/><circle cx="1091.0" cy="453.0" r="4.2"/><circle cx="1096.3" cy="455.8" r="4.2"/><circle cx="1101.5" cy="450.9" r="4.2"/><circle cx="1106.8" cy="450.2" r="4.2"/><circle cx="1112.0" cy="447.1" r="4.2"/><circle cx="1117.2" cy="446.9" r="4.2"/><circle cx="1122.5" cy="449.4" r="4.2"/><circle cx="1127.7" cy="452.7" r="4.2"/><circle cx="1132.9" cy="452.1" r="4.2"/><circle cx="1138.2" cy="451.3" r="4.2"/><circle cx="1143.4" cy="453.5" r="4.2"/><circle cx="1148.7" cy="453.3" r="4.2"/><circle cx="1153.9" cy="458.8" r="4.2"/><circle cx="1159.1" cy="456.3" r="4.2"/><circle cx="1164.4" cy="456.9" r="4.2"/><circle cx="1169.6" cy="458.2" r="4.2"/><circle cx="1174.8" cy="463.1" r="4.2"/><circle cx="1180.1" cy="459.8" r="4.2"/><circle cx="1185.3" cy="462.3" r="4.2"/><circle cx="1190.5" cy="458.9" r="4.2"/><circle cx="1195.8" cy="459.7" r="4.2"/><circle cx="1201.0" cy="464.8" r="4.2"/><circle cx="1206.3" cy="466.3" r="4.2"/><circle cx="1211.5" cy="468.8" r="4.2"/><circle cx="1216.7" cy="466.3" r="4.2"/><circle cx="1222.0" cy="464.6" r="4.2"/><circle cx="1227.2" cy="466.4" r="4.2"/><circle cx="1232.4" cy="473.3" r="4.2"/><circle cx="1237.7" cy="478.2" r="4.2"/><circle cx="1242.9" cy="478.2" r="4.2"/><circle cx="1248.2" cy="480.1" r="4.2"/><circle cx="1253.4" cy="482.3" r="4.2"/><circle cx="1258.6" cy="481.7" r="4.2"/><circle cx="1263.9" cy="487.0" r="4.2"/><circle cx="1269.1" cy="487.1" r="4.2"/><circle cx="1274.3" cy="493.2" r="4.2"/><circle cx="1279.6" cy="485.7" r="4.2"/><circle cx="1284.8" cy="483.3" r="4.2"/><circle cx="1290.1" cy="482.0" r="4.2"/><circle cx="1295.3" cy="487.0" r="4.2"/><circle cx="1300.5" cy="482.3" r="4.2"/><circle cx="1305.8" cy="484.8" r="4.2"/><circle cx="1311.0" cy="480.6" r="4.2"/><circle cx="1316.2" cy="477.8" r="4.2"/><circle cx="1321.5" cy="469.8" r="4.2"/></g><rect x="780.60" y="314.00" width="542.20" height="270.80" fill="none" stroke="#000" stroke-width="2"/><text transform="translate(792.90,357.60) scale(1.035,1)" font-weight="bold" font-size="41">e</text></g>
<g id="pf"><line x1="780.60" y1="797.23" x2="1322.80" y2="797.23" stroke="#000" stroke-width="2" stroke-dasharray="2.7,3.832" stroke-dashoffset="0.19"/><path d="M780.60,887.60h8M1322.80,887.60h-8.7" stroke="#000" stroke-width="2"/><text transform="translate(768.20,898.10) scale(1,1.06)" text-anchor="end"><tspan dy="-1">–</tspan><tspan dy="1">0.2</tspan></text><path d="M780.60,842.42h8M1322.80,842.42h-8.7" stroke="#000" stroke-width="2"/><text transform="translate(768.20,852.92) scale(1,1.06)" text-anchor="end"><tspan dy="-1">–</tspan><tspan dy="1">0.1</tspan></text><path d="M780.60,797.23h8M1322.80,797.23h-8.7" stroke="#000" stroke-width="2"/><text transform="translate(768.20,807.73) scale(1,1.06)" text-anchor="end">0</text><path d="M780.60,752.05h8M1322.80,752.05h-8.7" stroke="#000" stroke-width="2"/><text transform="translate(768.20,762.55) scale(1,1.06)" text-anchor="end">0.1</text><path d="M780.60,706.87h8M1322.80,706.87h-8.7" stroke="#000" stroke-width="2"/><text transform="translate(768.20,717.37) scale(1,1.06)" text-anchor="end">0.2</text><path d="M780.60,661.68h8M1322.80,661.68h-8.7" stroke="#000" stroke-width="2"/><text transform="translate(768.20,672.18) scale(1,1.06)" text-anchor="end">0.3</text><path d="M780.60,616.50h8M1322.80,616.50h-8.7" stroke="#000" stroke-width="2"/><text transform="translate(768.20,627.00) scale(1,1.06)" text-anchor="end">0.4</text><path d="M846.15,887.60v-8M846.15,616.50v8" stroke="#000" stroke-width="2"/><text transform="translate(846.15,924.1) scale(1,1.06)" text-anchor="middle">0.1</text><path d="M928.31,887.60v-8M928.31,616.50v8" stroke="#000" stroke-width="2"/><text transform="translate(928.31,924.1) scale(1,1.06)" text-anchor="middle">0.2</text><path d="M1010.47,887.60v-8M1010.47,616.50v8" stroke="#000" stroke-width="2"/><text transform="translate(1010.47,924.1) scale(1,1.06)" text-anchor="middle">0.3</text><path d="M1092.63,887.60v-8M1092.63,616.50v8" stroke="#000" stroke-width="2"/><text transform="translate(1092.63,924.1) scale(1,1.06)" text-anchor="middle">0.4</text><path d="M1174.79,887.60v-8M1174.79,616.50v8" stroke="#000" stroke-width="2"/><text transform="translate(1174.79,924.1) scale(1,1.06)" text-anchor="middle">0.5</text><path d="M1256.95,887.60v-8M1256.95,616.50v8" stroke="#000" stroke-width="2"/><text transform="translate(1256.95,924.1) scale(1,1.06)" text-anchor="middle">0.6</text><path d="M787.3,744.8 L792.5,783.8 L797.8,817.0 L803.0,824.6 L808.2,818.9 L813.5,782.8 L818.7,763.0 L824.0,724.3 L829.2,697.0 L834.4,679.1 L839.7,673.4 L844.9,686.1 L850.1,703.8 L855.4,737.9 L860.6,739.1 L865.9,754.7 L871.1,778.5 L876.3,771.3 L881.6,780.3 L886.8,777.2 L892.0,781.7 L897.3,789.9 L902.5,784.6 L907.8,782.8 L913.0,788.1 L918.2,793.0 L923.5,801.0 L928.7,795.7 L933.9,798.3 L939.2,793.6 L944.4,792.5 L949.6,789.9 L954.9,789.1 L960.1,795.0 L965.4,796.0 L970.6,793.3 L975.8,792.6 L981.1,799.8 L986.3,807.1 L991.5,812.0 L996.8,810.4 L1002.0,809.6 L1007.3,799.2 L1012.5,798.0 L1017.7,797.3 L1023.0,793.5 L1028.2,798.7 L1033.4,803.0 L1038.7,794.2 L1043.9,787.8 L1049.2,782.5 L1054.4,785.9 L1059.6,778.3 L1064.9,781.9 L1070.1,777.7 L1075.3,780.1 L1080.6,779.8 L1085.8,778.0 L1091.0,789.1 L1096.3,777.5 L1101.5,776.6 L1106.8,790.7 L1112.0,789.6 L1117.2,785.9 L1122.5,780.1 L1127.7,773.8 L1132.9,767.9 L1138.2,782.4 L1143.4,789.8 L1148.7,788.6 L1153.9,794.6 L1159.1,792.8 L1164.4,795.6 L1169.6,792.8 L1174.8,791.0 L1180.1,783.0 L1185.3,794.6 L1190.5,783.0 L1195.8,789.0 L1201.0,785.8 L1206.3,792.1 L1211.5,782.0 L1216.7,788.2 L1222.0,781.1 L1227.2,778.8 L1232.4,778.8 L1237.7,780.2 L1242.9,792.8 L1248.2,794.2 L1253.4,795.6 L1258.6,787.6 L1263.9,792.1 L1269.1,776.0 L1274.3,785.1 L1279.6,787.9 L1284.8,783.9 L1290.1,788.2 L1295.3,793.8 L1300.5,793.2 L1305.8,786.8 L1311.0,776.0 L1316.2,789.6 L1321.5,781.6" fill="none" stroke="#a028dc" stroke-width="1.1"/><g fill="#9400d3"><circle cx="787.3" cy="744.8" r="4.2"/><circle cx="792.5" cy="783.8" r="4.2"/><circle cx="797.8" cy="817.0" r="4.2"/><circle cx="803.0" cy="824.6" r="4.2"/><circle cx="808.2" cy="818.9" r="4.2"/><circle cx="813.5" cy="782.8" r="4.2"/><circle cx="818.7" cy="763.0" r="4.2"/><circle cx="824.0" cy="724.3" r="4.2"/><circle cx="829.2" cy="697.0" r="4.2"/><circle cx="834.4" cy="679.1" r="4.2"/><circle cx="839.7" cy="673.4" r="4.2"/><circle cx="844.9" cy="686.1" r="4.2"/><circle cx="850.1" cy="703.8" r="4.2"/><circle cx="855.4" cy="737.9" r="4.2"/><circle cx="860.6" cy="739.1" r="4.2"/><circle cx="865.9" cy="754.7" r="4.2"/><circle cx="871.1" cy="778.5" r="4.2"/><circle cx="876.3" cy="771.3" r="4.2"/><circle cx="881.6" cy="780.3" r="4.2"/><circle cx="886.8" cy="777.2" r="4.2"/><circle cx="892.0" cy="781.7" r="4.2"/><circle cx="897.3" cy="789.9" r="4.2"/><circle cx="902.5" cy="784.6" r="4.2"/><circle cx="907.8" cy="782.8" r="4.2"/><circle cx="913.0" cy="788.1" r="4.2"/><circle cx="918.2" cy="793.0" r="4.2"/><circle cx="923.5" cy="801.0" r="4.2"/><circle cx="928.7" cy="795.7" r="4.2"/><circle cx="933.9" cy="798.3" r="4.2"/><circle cx="939.2" cy="793.6" r="4.2"/><circle cx="944.4" cy="792.5" r="4.2"/><circle cx="949.6" cy="789.9" r="4.2"/><circle cx="954.9" cy="789.1" r="4.2"/><circle cx="960.1" cy="795.0" r="4.2"/><circle cx="965.4" cy="796.0" r="4.2"/><circle cx="970.6" cy="793.3" r="4.2"/><circle cx="975.8" cy="792.6" r="4.2"/><circle cx="981.1" cy="799.8" r="4.2"/><circle cx="986.3" cy="807.1" r="4.2"/><circle cx="991.5" cy="812.0" r="4.2"/><circle cx="996.8" cy="810.4" r="4.2"/><circle cx="1002.0" cy="809.6" r="4.2"/><circle cx="1007.3" cy="799.2" r="4.2"/><circle cx="1012.5" cy="798.0" r="4.2"/><circle cx="1017.7" cy="797.3" r="4.2"/><circle cx="1023.0" cy="793.5" r="4.2"/><circle cx="1028.2" cy="798.7" r="4.2"/><circle cx="1033.4" cy="803.0" r="4.2"/><circle cx="1038.7" cy="794.2" r="4.2"/><circle cx="1043.9" cy="787.8" r="4.2"/><circle cx="1049.2" cy="782.5" r="4.2"/><circle cx="1054.4" cy="785.9" r="4.2"/><circle cx="1059.6" cy="778.3" r="4.2"/><circle cx="1064.9" cy="781.9" r="4.2"/><circle cx="1070.1" cy="777.7" r="4.2"/><circle cx="1075.3" cy="780.1" r="4.2"/><circle cx="1080.6" cy="779.8" r="4.2"/><circle cx="1085.8" cy="778.0" r="4.2"/><circle cx="1091.0" cy="789.1" r="4.2"/><circle cx="1096.3" cy="777.5" r="4.2"/><circle cx="1101.5" cy="776.6" r="4.2"/><circle cx="1106.8" cy="790.7" r="4.2"/><circle cx="1112.0" cy="789.6" r="4.2"/><circle cx="1117.2" cy="785.9" r="4.2"/><circle cx="1122.5" cy="780.1" r="4.2"/><circle cx="1127.7" cy="773.8" r="4.2"/><circle cx="1132.9" cy="767.9" r="4.2"/><circle cx="1138.2" cy="782.4" r="4.2"/><circle cx="1143.4" cy="789.8" r="4.2"/><circle cx="1148.7" cy="788.6" r="4.2"/><circle cx="1153.9" cy="794.6" r="4.2"/><circle cx="1159.1" cy="792.8" r="4.2"/><circle cx="1164.4" cy="795.6" r="4.2"/><circle cx="1169.6" cy="792.8" r="4.2"/><circle cx="1174.8" cy="791.0" r="4.2"/><circle cx="1180.1" cy="783.0" r="4.2"/><circle cx="1185.3" cy="794.6" r="4.2"/><circle cx="1190.5" cy="783.0" r="4.2"/><circle cx="1195.8" cy="789.0" r="4.2"/><circle cx="1201.0" cy="785.8" r="4.2"/><circle cx="1206.3" cy="792.1" r="4.2"/><circle cx="1211.5" cy="782.0" r="4.2"/><circle cx="1216.7" cy="788.2" r="4.2"/><circle cx="1222.0" cy="781.1" r="4.2"/><circle cx="1227.2" cy="778.8" r="4.2"/><circle cx="1232.4" cy="778.8" r="4.2"/><circle cx="1237.7" cy="780.2" r="4.2"/><circle cx="1242.9" cy="792.8" r="4.2"/><circle cx="1248.2" cy="794.2" r="4.2"/><circle cx="1253.4" cy="795.6" r="4.2"/><circle cx="1258.6" cy="787.6" r="4.2"/><circle cx="1263.9" cy="792.1" r="4.2"/><circle cx="1269.1" cy="776.0" r="4.2"/><circle cx="1274.3" cy="785.1" r="4.2"/><circle cx="1279.6" cy="787.9" r="4.2"/><circle cx="1284.8" cy="783.9" r="4.2"/><circle cx="1290.1" cy="788.2" r="4.2"/><circle cx="1295.3" cy="793.8" r="4.2"/><circle cx="1300.5" cy="793.2" r="4.2"/><circle cx="1305.8" cy="786.8" r="4.2"/><circle cx="1311.0" cy="776.0" r="4.2"/><circle cx="1316.2" cy="789.6" r="4.2"/><circle cx="1321.5" cy="781.6" r="4.2"/></g><rect x="780.60" y="616.50" width="542.20" height="271.10" fill="none" stroke="#000" stroke-width="2"/><text transform="translate(792.90,660.10) scale(1.035,1)" font-weight="bold" font-size="41">f</text></g>
<text transform="translate(398,971.3) scale(1,1.03)" text-anchor="middle">q (Å<tspan dy="-12" font-size="20.5">–1</tspan><tspan dy="12">)</tspan></text>
<text transform="translate(1046.4,971.3) scale(1,1.03)" text-anchor="middle">q (Å<tspan dy="-12" font-size="20.5">–1</tspan><tspan dy="12">)</tspan></text>
</svg>
</body></html>
